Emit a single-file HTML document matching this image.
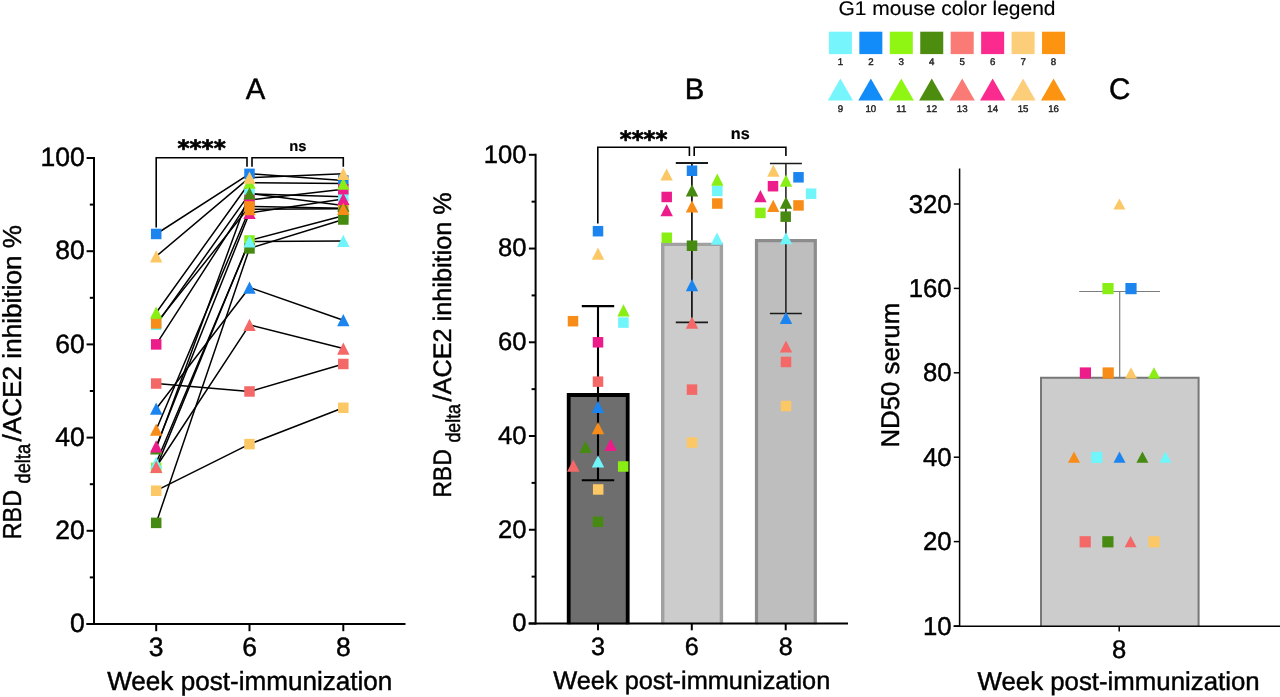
<!DOCTYPE html>
<html lang="en"><head><meta charset="utf-8"><title>Figure</title>
<style>html,body{margin:0;padding:0;background:#fff}body{width:1280px;height:697px;overflow:hidden}svg text{text-rendering:geometricPrecision;fill:#000;stroke:#000;stroke-width:0.45px}svg text.ns{stroke-width:0.2px}svg text.lt{stroke-width:0.15px}svg text.sm{stroke-width:0.4px;fill:#222;stroke:#222}svg text.ast{stroke-width:0.7px;stroke-linejoin:round}</style></head>
<body>
<svg width="1280" height="697" viewBox="0 0 1280 697" style="display:block">
<rect width="1280" height="697" fill="#fff"/>
<text x="947" y="15.0" font-size="19.8" text-anchor="middle" font-family="'Liberation Sans', Arial, sans-serif" class="lt" textLength="217" lengthAdjust="spacingAndGlyphs">G1 mouse color legend</text>
<rect x="828.90" y="31.7" width="23" height="22.4" fill="#76F5FD"/>
<text x="840.40" y="65.1" font-size="9.7" text-anchor="middle" font-family="'Liberation Sans', Arial, sans-serif" class="sm">1</text>
<polygon points="840.40,78.6 853.00,100.4 827.80,100.4" fill="#76F5FD"/>
<text x="840.40" y="111.7" font-size="9.7" text-anchor="middle" font-family="'Liberation Sans', Arial, sans-serif" class="sm">9</text>
<rect x="859.35" y="31.7" width="23" height="22.4" fill="#128CF8"/>
<text x="870.85" y="65.1" font-size="9.7" text-anchor="middle" font-family="'Liberation Sans', Arial, sans-serif" class="sm">2</text>
<polygon points="870.85,78.6 883.45,100.4 858.25,100.4" fill="#128CF8"/>
<text x="870.85" y="111.7" font-size="9.7" text-anchor="middle" font-family="'Liberation Sans', Arial, sans-serif" class="sm">10</text>
<rect x="889.80" y="31.7" width="23" height="22.4" fill="#8EF612"/>
<text x="901.30" y="65.1" font-size="9.7" text-anchor="middle" font-family="'Liberation Sans', Arial, sans-serif" class="sm">3</text>
<polygon points="901.30,78.6 913.90,100.4 888.70,100.4" fill="#8EF612"/>
<text x="901.30" y="111.7" font-size="9.7" text-anchor="middle" font-family="'Liberation Sans', Arial, sans-serif" class="sm">11</text>
<rect x="920.25" y="31.7" width="23" height="22.4" fill="#4C8C0E"/>
<text x="931.75" y="65.1" font-size="9.7" text-anchor="middle" font-family="'Liberation Sans', Arial, sans-serif" class="sm">4</text>
<polygon points="931.75,78.6 944.35,100.4 919.15,100.4" fill="#4C8C0E"/>
<text x="931.75" y="111.7" font-size="9.7" text-anchor="middle" font-family="'Liberation Sans', Arial, sans-serif" class="sm">12</text>
<rect x="950.70" y="31.7" width="23" height="22.4" fill="#FA7A76"/>
<text x="962.20" y="65.1" font-size="9.7" text-anchor="middle" font-family="'Liberation Sans', Arial, sans-serif" class="sm">5</text>
<polygon points="962.20,78.6 974.80,100.4 949.60,100.4" fill="#FA7A76"/>
<text x="962.20" y="111.7" font-size="9.7" text-anchor="middle" font-family="'Liberation Sans', Arial, sans-serif" class="sm">13</text>
<rect x="981.15" y="31.7" width="23" height="22.4" fill="#FA2A8E"/>
<text x="992.65" y="65.1" font-size="9.7" text-anchor="middle" font-family="'Liberation Sans', Arial, sans-serif" class="sm">6</text>
<polygon points="992.65,78.6 1005.25,100.4 980.05,100.4" fill="#FA2A8E"/>
<text x="992.65" y="111.7" font-size="9.7" text-anchor="middle" font-family="'Liberation Sans', Arial, sans-serif" class="sm">14</text>
<rect x="1011.60" y="31.7" width="23" height="22.4" fill="#FDCE7A"/>
<text x="1023.10" y="65.1" font-size="9.7" text-anchor="middle" font-family="'Liberation Sans', Arial, sans-serif" class="sm">7</text>
<polygon points="1023.10,78.6 1035.70,100.4 1010.50,100.4" fill="#FDCE7A"/>
<text x="1023.10" y="111.7" font-size="9.7" text-anchor="middle" font-family="'Liberation Sans', Arial, sans-serif" class="sm">15</text>
<rect x="1042.05" y="31.7" width="23" height="22.4" fill="#FC9412"/>
<text x="1053.55" y="65.1" font-size="9.7" text-anchor="middle" font-family="'Liberation Sans', Arial, sans-serif" class="sm">8</text>
<polygon points="1053.55,78.6 1066.15,100.4 1040.95,100.4" fill="#FC9412"/>
<text x="1053.55" y="111.7" font-size="9.7" text-anchor="middle" font-family="'Liberation Sans', Arial, sans-serif" class="sm">16</text>
<text x="255.6" y="98.9" font-size="29.3" text-anchor="middle" font-family="'Liberation Sans', Arial, sans-serif">A</text>
<g stroke="#000" stroke-width="2" fill="none">
<path d="M94.0,157.0 V625.0"/>
<path d="M86.5,624.0 H405.5"/>
<path d="M86.6,624.00 H94.0"/>
<path d="M89.8,577.40 H94.0"/>
<path d="M86.6,530.80 H94.0"/>
<path d="M89.8,484.20 H94.0"/>
<path d="M86.6,437.60 H94.0"/>
<path d="M89.8,391.00 H94.0"/>
<path d="M86.6,344.40 H94.0"/>
<path d="M89.8,297.80 H94.0"/>
<path d="M86.6,251.20 H94.0"/>
<path d="M89.8,204.60 H94.0"/>
<path d="M86.6,158.00 H94.0"/>
<path d="M156.2,624.0 V631.2"/>
<path d="M249.5,624.0 V631.2"/>
<path d="M343.3,624.0 V631.2"/>
</g>
<text x="84.8" y="632.10" font-size="26.5" text-anchor="end" font-family="'Liberation Sans', Arial, sans-serif">0</text>
<text x="84.8" y="538.90" font-size="26.5" text-anchor="end" font-family="'Liberation Sans', Arial, sans-serif">20</text>
<text x="84.8" y="445.70" font-size="26.5" text-anchor="end" font-family="'Liberation Sans', Arial, sans-serif">40</text>
<text x="84.8" y="352.50" font-size="26.5" text-anchor="end" font-family="'Liberation Sans', Arial, sans-serif">60</text>
<text x="84.8" y="259.30" font-size="26.5" text-anchor="end" font-family="'Liberation Sans', Arial, sans-serif">80</text>
<text x="84.8" y="166.10" font-size="26.5" text-anchor="end" font-family="'Liberation Sans', Arial, sans-serif">100</text>
<text x="156.2" y="656.2" font-size="26.5" text-anchor="middle" font-family="'Liberation Sans', Arial, sans-serif">3</text>
<text x="249.5" y="656.2" font-size="26.5" text-anchor="middle" font-family="'Liberation Sans', Arial, sans-serif">6</text>
<text x="343.3" y="656.2" font-size="26.5" text-anchor="middle" font-family="'Liberation Sans', Arial, sans-serif">8</text>
<text x="249.8" y="690.3" font-size="26.3" text-anchor="middle" font-family="'Liberation Sans', Arial, sans-serif" textLength="285.2" lengthAdjust="spacingAndGlyphs">Week post-immunization</text>
<g transform="translate(21.3,537.5) rotate(-90)" font-size="26.0" font-family="'Liberation Sans', Arial, sans-serif">
<text x="-1.8" y="0" textLength="49.4" lengthAdjust="spacingAndGlyphs">RBD</text>
<text x="54.0" y="9" font-size="21.0" textLength="39.6" lengthAdjust="spacingAndGlyphs">delta</text>
<text x="96.0" y="0" textLength="216.6" lengthAdjust="spacingAndGlyphs">/ACE2 inhibition %</text>
</g>
<g stroke="#000" stroke-width="1.6" fill="none">
<path d="M156.2,227.5 V157.8 H247 V166.8"/>
<path d="M252,166.8 V157.8 H343.3 V166.8"/>
</g>
<text x="201.6" y="156.3" font-size="22.4" text-anchor="middle" font-family="'DejaVu Sans', sans-serif" font-weight="bold" class="ast" textLength="48.2" lengthAdjust="spacingAndGlyphs">****</text>
<text x="297.9" y="150.5" font-size="14.7" text-anchor="middle" font-weight="bold" class="ns" font-family="'Liberation Sans', Arial, sans-serif">ns</text>
<g stroke="#000" stroke-width="1.5" fill="none" stroke-linejoin="round">
<path d="M156.2,324.8 L249.5,193.9 L343.3,196.7"/>
<path d="M156.2,234.0 L249.5,173.8 L343.3,180.4"/>
<path d="M156.2,467.9 L249.5,240.5 L343.3,215.8"/>
<path d="M156.2,522.9 L249.5,248.4 L343.3,219.5"/>
<path d="M156.2,383.5 L249.5,391.5 L343.3,364.0"/>
<path d="M156.2,344.4 L249.5,199.9 L343.3,189.2"/>
<path d="M156.2,490.7 L249.5,444.1 L343.3,407.8"/>
<path d="M156.2,323.4 L249.5,206.5 L343.3,208.3"/>
<path d="M156.2,462.8 L249.5,241.4 L343.3,240.9"/>
<path d="M156.2,408.7 L249.5,287.5 L343.3,320.2"/>
<path d="M156.2,312.7 L249.5,182.7 L343.3,183.6"/>
<path d="M156.2,448.3 L249.5,193.4 L343.3,205.5"/>
<path d="M156.2,467.0 L249.5,324.8 L343.3,348.6"/>
<path d="M156.2,446.5 L249.5,213.0 L343.3,199.0"/>
<path d="M156.2,256.3 L249.5,177.6 L343.3,173.8"/>
<path d="M156.2,429.7 L249.5,209.3 L343.3,208.8"/>
</g>
<rect x="150.95" y="319.58" width="10.5" height="10.5" fill="#70F5FB"/>
<rect x="244.25" y="188.63" width="10.5" height="10.5" fill="#70F5FB"/>
<rect x="338.05" y="191.43" width="10.5" height="10.5" fill="#70F5FB"/>
<rect x="150.95" y="228.71" width="10.5" height="10.5" fill="#1C84EE"/>
<rect x="244.25" y="168.59" width="10.5" height="10.5" fill="#1C84EE"/>
<rect x="338.05" y="175.12" width="10.5" height="10.5" fill="#1C84EE"/>
<rect x="150.95" y="462.64" width="10.5" height="10.5" fill="#88EE14"/>
<rect x="244.25" y="235.23" width="10.5" height="10.5" fill="#88EE14"/>
<rect x="338.05" y="210.53" width="10.5" height="10.5" fill="#88EE14"/>
<rect x="150.95" y="517.63" width="10.5" height="10.5" fill="#468A12"/>
<rect x="244.25" y="243.15" width="10.5" height="10.5" fill="#468A12"/>
<rect x="338.05" y="214.26" width="10.5" height="10.5" fill="#468A12"/>
<rect x="150.95" y="378.29" width="10.5" height="10.5" fill="#F46868"/>
<rect x="244.25" y="386.22" width="10.5" height="10.5" fill="#F46868"/>
<rect x="338.05" y="358.72" width="10.5" height="10.5" fill="#F46868"/>
<rect x="150.95" y="339.15" width="10.5" height="10.5" fill="#EC1C8A"/>
<rect x="244.25" y="194.69" width="10.5" height="10.5" fill="#EC1C8A"/>
<rect x="338.05" y="183.97" width="10.5" height="10.5" fill="#EC1C8A"/>
<rect x="150.95" y="485.47" width="10.5" height="10.5" fill="#FCC866"/>
<rect x="244.25" y="438.87" width="10.5" height="10.5" fill="#FCC866"/>
<rect x="338.05" y="402.53" width="10.5" height="10.5" fill="#FCC866"/>
<rect x="150.95" y="318.18" width="10.5" height="10.5" fill="#F78C18"/>
<rect x="244.25" y="201.21" width="10.5" height="10.5" fill="#F78C18"/>
<rect x="338.05" y="203.08" width="10.5" height="10.5" fill="#F78C18"/>
<polygon points="156.20,456.66 162.40,468.86 150.00,468.86" fill="#70F5FB"/>
<polygon points="249.50,235.31 255.70,247.51 243.30,247.51" fill="#70F5FB"/>
<polygon points="343.30,234.85 349.50,247.05 337.10,247.05" fill="#70F5FB"/>
<polygon points="156.20,402.61 162.40,414.81 150.00,414.81" fill="#1C84EE"/>
<polygon points="249.50,281.45 255.70,293.65 243.30,293.65" fill="#1C84EE"/>
<polygon points="343.30,314.07 349.50,326.27 337.10,326.27" fill="#1C84EE"/>
<polygon points="156.20,306.61 162.40,318.81 150.00,318.81" fill="#88EE14"/>
<polygon points="249.50,176.60 255.70,188.80 243.30,188.80" fill="#88EE14"/>
<polygon points="343.30,177.53 349.50,189.73 337.10,189.73" fill="#88EE14"/>
<polygon points="156.20,442.22 162.40,454.42 150.00,454.42" fill="#468A12"/>
<polygon points="249.50,187.32 255.70,199.52 243.30,199.52" fill="#468A12"/>
<polygon points="343.30,199.43 349.50,211.63 337.10,211.63" fill="#468A12"/>
<polygon points="156.20,460.86 162.40,473.06 150.00,473.06" fill="#F46868"/>
<polygon points="249.50,318.73 255.70,330.93 243.30,330.93" fill="#F46868"/>
<polygon points="343.30,342.49 349.50,354.69 337.10,354.69" fill="#F46868"/>
<polygon points="156.20,440.35 162.40,452.55 150.00,452.55" fill="#EC1C8A"/>
<polygon points="249.50,206.89 255.70,219.09 243.30,219.09" fill="#EC1C8A"/>
<polygon points="343.30,192.91 349.50,205.11 337.10,205.11" fill="#EC1C8A"/>
<polygon points="156.20,250.23 162.40,262.43 150.00,262.43" fill="#FCC866"/>
<polygon points="249.50,171.47 255.70,183.67 243.30,183.67" fill="#FCC866"/>
<polygon points="343.30,167.74 349.50,179.94 337.10,179.94" fill="#FCC866"/>
<polygon points="156.20,423.58 162.40,435.78 150.00,435.78" fill="#F78C18"/>
<polygon points="249.50,203.16 255.70,215.36 243.30,215.36" fill="#F78C18"/>
<polygon points="343.30,202.69 349.50,214.89 337.10,214.89" fill="#F78C18"/>
<text x="694.6" y="98.9" font-size="29.3" text-anchor="middle" font-family="'Liberation Sans', Arial, sans-serif">B</text>
<path d="M568.70,624.3 V395.00 H627.70 V624.3" fill="#6E6E6E" stroke="#000" stroke-width="3.8"/>
<path d="M662.70,624.3 V244.40 H721.40 V624.3" fill="#CCCCCC" stroke="#A1A1A1" stroke-width="3.4"/>
<path d="M756.50,624.3 V240.60 H815.30 V624.3" fill="#BEBEBE" stroke="#8C8C8C" stroke-width="3.2"/>
<path d="M581.80,306.1 H614.20 M581.80,480.2 H614.20 M598.0,306.1 V480.2" stroke="#000" stroke-width="2.1" fill="none"/>
<path d="M675.80,163.0 H708.00 M675.80,322.3 H708.00 M691.9,163.0 V322.3" stroke="#1a1a1a" stroke-width="1.8" fill="none"/>
<path d="M769.90,163.4 H801.90 M769.90,313.4 H801.90 M785.9,163.4 V313.4" stroke="#1a1a1a" stroke-width="1.5" fill="none"/>
<g stroke="#000" stroke-width="2" fill="none">
<path d="M535.6,153.8 V624.5"/>
<path d="M528.6,623.5 H848"/>
<path d="M528.9,623.50 H535.6"/>
<path d="M531.6,576.63 H535.6"/>
<path d="M528.9,529.76 H535.6"/>
<path d="M531.6,482.89 H535.6"/>
<path d="M528.9,436.02 H535.6"/>
<path d="M531.6,389.15 H535.6"/>
<path d="M528.9,342.28 H535.6"/>
<path d="M531.6,295.41 H535.6"/>
<path d="M528.9,248.54 H535.6"/>
<path d="M531.6,201.67 H535.6"/>
<path d="M528.9,154.80 H535.6"/>
<path d="M598.0,623.5 V630.3"/>
<path d="M691.8,623.5 V630.3"/>
<path d="M785.7,623.5 V630.3"/>
</g>
<text x="526.4" y="631.40" font-size="25.6" text-anchor="end" font-family="'Liberation Sans', Arial, sans-serif">0</text>
<text x="526.4" y="537.66" font-size="25.6" text-anchor="end" font-family="'Liberation Sans', Arial, sans-serif">20</text>
<text x="526.4" y="443.92" font-size="25.6" text-anchor="end" font-family="'Liberation Sans', Arial, sans-serif">40</text>
<text x="526.4" y="350.18" font-size="25.6" text-anchor="end" font-family="'Liberation Sans', Arial, sans-serif">60</text>
<text x="526.4" y="256.44" font-size="25.6" text-anchor="end" font-family="'Liberation Sans', Arial, sans-serif">80</text>
<text x="526.4" y="162.70" font-size="25.6" text-anchor="end" font-family="'Liberation Sans', Arial, sans-serif">100</text>
<text x="598.0" y="655.2" font-size="25.2" text-anchor="middle" font-family="'Liberation Sans', Arial, sans-serif">3</text>
<text x="691.8" y="655.2" font-size="25.2" text-anchor="middle" font-family="'Liberation Sans', Arial, sans-serif">6</text>
<text x="785.7" y="655.2" font-size="25.2" text-anchor="middle" font-family="'Liberation Sans', Arial, sans-serif">8</text>
<text x="691.8" y="688.6" font-size="25.3" text-anchor="middle" font-family="'Liberation Sans', Arial, sans-serif" textLength="277" lengthAdjust="spacingAndGlyphs">Week post-immunization</text>
<g transform="translate(451.4,496.0) rotate(-90)" font-size="25.3" font-family="'Liberation Sans', Arial, sans-serif">
<text x="-1.8" y="0" textLength="48.6" lengthAdjust="spacingAndGlyphs">RBD</text>
<text x="53.4" y="9" font-size="20.4" textLength="38.6" lengthAdjust="spacingAndGlyphs">delta</text>
<text x="94.6" y="0" textLength="209.2" lengthAdjust="spacingAndGlyphs">/ACE2 inhibition %</text>
</g>
<g stroke="#000" stroke-width="1.6" fill="none">
<path d="M597.8,223.6 V147.2 H689.4 V156"/>
<path d="M694.2,156 V147.2 H785.9 V156"/>
</g>
<text x="643.6" y="146.8" font-size="22.4" text-anchor="middle" font-family="'DejaVu Sans', sans-serif" font-weight="bold" class="ast" textLength="47.6" lengthAdjust="spacingAndGlyphs">****</text>
<text x="740.3" y="139.4" font-size="16.2" text-anchor="middle" font-weight="bold" class="ns" font-family="'Liberation Sans', Arial, sans-serif">ns</text>
<rect x="618.15" y="317.34" width="10.5" height="10.5" fill="#70F5FB"/>
<rect x="712.05" y="185.64" width="10.5" height="10.5" fill="#70F5FB"/>
<rect x="805.85" y="188.45" width="10.5" height="10.5" fill="#70F5FB"/>
<rect x="592.75" y="225.95" width="10.5" height="10.5" fill="#1C84EE"/>
<rect x="686.75" y="165.49" width="10.5" height="10.5" fill="#1C84EE"/>
<rect x="793.25" y="172.05" width="10.5" height="10.5" fill="#1C84EE"/>
<rect x="617.95" y="461.24" width="10.5" height="10.5" fill="#88EE14"/>
<rect x="661.55" y="232.51" width="10.5" height="10.5" fill="#88EE14"/>
<rect x="755.15" y="207.67" width="10.5" height="10.5" fill="#88EE14"/>
<rect x="592.75" y="516.54" width="10.5" height="10.5" fill="#468A12"/>
<rect x="686.75" y="240.48" width="10.5" height="10.5" fill="#468A12"/>
<rect x="780.45" y="211.42" width="10.5" height="10.5" fill="#468A12"/>
<rect x="592.75" y="376.40" width="10.5" height="10.5" fill="#F46868"/>
<rect x="686.75" y="384.37" width="10.5" height="10.5" fill="#F46868"/>
<rect x="780.75" y="356.72" width="10.5" height="10.5" fill="#F46868"/>
<rect x="592.75" y="337.03" width="10.5" height="10.5" fill="#EC1C8A"/>
<rect x="661.45" y="191.73" width="10.5" height="10.5" fill="#EC1C8A"/>
<rect x="767.75" y="180.95" width="10.5" height="10.5" fill="#EC1C8A"/>
<rect x="592.95" y="484.20" width="10.5" height="10.5" fill="#FCC866"/>
<rect x="686.75" y="437.33" width="10.5" height="10.5" fill="#FCC866"/>
<rect x="780.75" y="400.77" width="10.5" height="10.5" fill="#FCC866"/>
<rect x="567.75" y="315.94" width="10.5" height="10.5" fill="#F78C18"/>
<rect x="712.05" y="198.29" width="10.5" height="10.5" fill="#F78C18"/>
<rect x="793.25" y="200.17" width="10.5" height="10.5" fill="#F78C18"/>
<polygon points="598.00,455.23 604.20,467.43 591.80,467.43" fill="#70F5FB"/>
<polygon points="717.00,232.60 723.20,244.80 710.80,244.80" fill="#70F5FB"/>
<polygon points="786.00,232.13 792.20,244.33 779.80,244.33" fill="#70F5FB"/>
<polygon points="598.00,400.86 604.20,413.06 591.80,413.06" fill="#1C84EE"/>
<polygon points="692.00,279.00 698.20,291.20 685.80,291.20" fill="#1C84EE"/>
<polygon points="786.00,311.81 792.20,324.01 779.80,324.01" fill="#1C84EE"/>
<polygon points="623.50,304.31 629.70,316.51 617.30,316.51" fill="#88EE14"/>
<polygon points="717.30,173.54 723.50,185.74 711.10,185.74" fill="#88EE14"/>
<polygon points="786.00,174.48 792.20,186.68 779.80,186.68" fill="#88EE14"/>
<polygon points="585.50,440.70 591.70,452.90 579.30,452.90" fill="#468A12"/>
<polygon points="692.00,184.32 698.20,196.52 685.80,196.52" fill="#468A12"/>
<polygon points="786.00,196.51 792.20,208.71 779.80,208.71" fill="#468A12"/>
<polygon points="573.30,459.45 579.50,471.65 567.10,471.65" fill="#F46868"/>
<polygon points="692.00,316.49 698.20,328.69 685.80,328.69" fill="#F46868"/>
<polygon points="786.00,340.40 792.20,352.60 779.80,352.60" fill="#F46868"/>
<polygon points="610.60,438.83 616.80,451.03 604.40,451.03" fill="#EC1C8A"/>
<polygon points="666.70,204.01 672.90,216.21 660.50,216.21" fill="#EC1C8A"/>
<polygon points="760.40,189.95 766.60,202.15 754.20,202.15" fill="#EC1C8A"/>
<polygon points="598.00,247.60 604.20,259.80 591.80,259.80" fill="#FCC866"/>
<polygon points="666.60,168.39 672.80,180.59 660.40,180.59" fill="#FCC866"/>
<polygon points="773.40,164.64 779.60,176.84 767.20,176.84" fill="#FCC866"/>
<polygon points="598.00,421.95 604.20,434.15 591.80,434.15" fill="#F78C18"/>
<polygon points="692.00,200.26 698.20,212.46 685.80,212.46" fill="#F78C18"/>
<polygon points="773.20,199.79 779.40,211.99 767.00,211.99" fill="#F78C18"/>
<text x="1119.6" y="99.2" font-size="29.6" text-anchor="middle" font-family="'Liberation Sans', Arial, sans-serif">C</text>
<path d="M1041,626.6 V377.7 H1198.6 V626.6" fill="#CCCCCC" stroke="#787878" stroke-width="2"/>
<path d="M1079.2,291.5 H1160 M1119.7,291.5 V377" stroke="#7d7d7d" stroke-width="1.2" fill="none"/>
<g stroke="#000" stroke-width="1.5" fill="none">
<path d="M959.6,168.4 V626.7"/>
<path d="M953.6,626.2 H1280"/>
<path d="M953.8000000000001,626.00 H959.6"/>
<path d="M953.8000000000001,541.60 H959.6"/>
<path d="M953.8000000000001,457.20 H959.6"/>
<path d="M953.8000000000001,372.80 H959.6"/>
<path d="M953.8000000000001,288.40 H959.6"/>
<path d="M953.8000000000001,204.00 H959.6"/>
<path d="M1119.2,626 V631.6"/>
</g>
<text x="951.6" y="634.50" font-size="25.7" text-anchor="end" font-family="'Liberation Sans', Arial, sans-serif">10</text>
<text x="951.6" y="550.10" font-size="25.7" text-anchor="end" font-family="'Liberation Sans', Arial, sans-serif">20</text>
<text x="951.6" y="465.70" font-size="25.7" text-anchor="end" font-family="'Liberation Sans', Arial, sans-serif">40</text>
<text x="951.6" y="381.30" font-size="25.7" text-anchor="end" font-family="'Liberation Sans', Arial, sans-serif">80</text>
<text x="951.6" y="296.90" font-size="25.7" text-anchor="end" font-family="'Liberation Sans', Arial, sans-serif">160</text>
<text x="951.6" y="212.50" font-size="25.7" text-anchor="end" font-family="'Liberation Sans', Arial, sans-serif">320</text>
<text x="1119.2" y="657.8" font-size="25.6" text-anchor="middle" font-family="'Liberation Sans', Arial, sans-serif">8</text>
<text x="1118.6" y="690.2" font-size="25.8" text-anchor="middle" font-family="'Liberation Sans', Arial, sans-serif" textLength="282" lengthAdjust="spacingAndGlyphs">Week post-immunization</text>
<text transform="translate(899.4,447.6) rotate(-90)" font-size="25.6" font-family="'Liberation Sans', Arial, sans-serif" textLength="144.8" lengthAdjust="spacingAndGlyphs">ND50 serum</text>
<polygon points="1119.40,198.40 1125.40,209.60 1113.40,209.60" fill="#FCC866"/>
<rect x="1102.40" y="283.00" width="11.2" height="11.2" fill="#88EE14"/>
<rect x="1125.40" y="283.00" width="11.2" height="11.2" fill="#1C84EE"/>
<rect x="1079.80" y="367.40" width="11.2" height="11.2" fill="#EC1C8A"/>
<rect x="1102.60" y="367.40" width="11.2" height="11.2" fill="#F78C18"/>
<polygon points="1131.00,367.20 1137.00,378.40 1125.00,378.40" fill="#FCC866"/>
<polygon points="1154.00,367.20 1160.00,378.40 1148.00,378.40" fill="#88EE14"/>
<polygon points="1074.00,451.60 1080.00,462.80 1068.00,462.80" fill="#F78C18"/>
<rect x="1091.20" y="451.80" width="11.2" height="11.2" fill="#70F5FB"/>
<polygon points="1119.50,451.60 1125.50,462.80 1113.50,462.80" fill="#1C84EE"/>
<polygon points="1142.40,451.60 1148.40,462.80 1136.40,462.80" fill="#468A12"/>
<polygon points="1165.40,451.60 1171.40,462.80 1159.40,462.80" fill="#70F5FB"/>
<rect x="1079.60" y="536.20" width="11.2" height="11.2" fill="#F46868"/>
<rect x="1102.30" y="536.20" width="11.2" height="11.2" fill="#468A12"/>
<polygon points="1130.60,536.00 1136.60,547.20 1124.60,547.20" fill="#F46868"/>
<rect x="1148.40" y="536.20" width="11.2" height="11.2" fill="#FCC866"/>
</svg>
</body></html>
